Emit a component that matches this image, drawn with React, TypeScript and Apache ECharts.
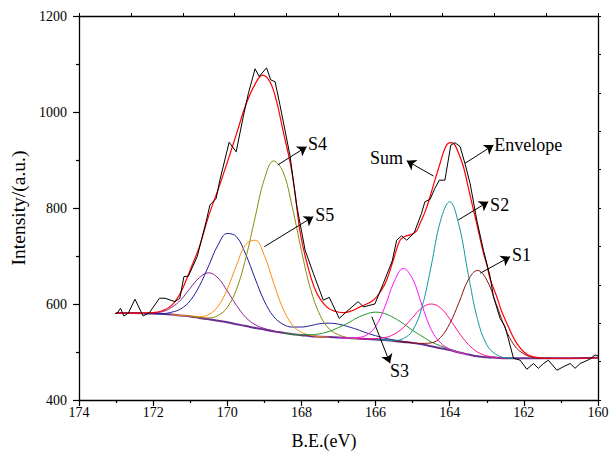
import React, { useEffect, useRef } from "react";
import * as echarts from "echarts";

type P = [number, number];

// Binding energy axis (eV), intensity axis (a.u.)
const xTicks = { min: 160, max: 174, interval: 2 };
const yTicks = { min: 400, max: 1200, interval: 200 };

// Raw spectrum (black)
const rawData: P[] = [
  [173.03, 580], [172.97, 581], [172.88, 591], [172.79, 575], [172.67, 581], [172.49, 610],
  [172.27, 575], [172.1, 582], [171.83, 612], [171.68, 612], [171.41, 605], [171.28, 612],
  [171.17, 657], [171.05, 658], [170.81, 699], [170.56, 775], [170.47, 806], [170.3, 820],
  [170.2, 858], [169.95, 937], [169.76, 917], [169.57, 990], [169.43, 1039], [169.25, 1090],
  [169.14, 1074], [168.94, 1092], [168.83, 1067], [168.71, 1063], [168.58, 1015], [168.31, 910],
  [168.13, 806], [167.9, 712], [167.68, 664], [167.41, 608], [167.25, 614], [166.98, 570],
  [166.74, 587], [166.47, 605], [166.33, 594], [166.02, 600], [165.79, 643], [165.55, 690],
  [165.43, 733], [165.3, 742], [165.16, 733], [164.96, 748], [164.76, 789], [164.67, 813],
  [164.53, 818], [164.4, 841], [164.28, 858], [164.13, 858], [163.97, 931], [163.86, 936],
  [163.72, 928], [163.59, 893], [163.45, 851], [163.27, 775], [163.09, 712], [162.91, 657],
  [162.82, 615], [162.64, 570], [162.51, 553], [162.42, 528], [162.28, 487], [162.1, 483],
  [161.92, 464], [161.74, 476], [161.61, 466], [161.47, 476], [161.34, 483], [161.11, 462],
  [160.94, 469], [160.75, 476], [160.62, 466], [160.48, 476], [160.22, 485], [160.08, 494],
  [160.0, 492],
];

// Fitted envelope (red)
const sumData: P[] = [
  [173.0, 581], [172.5, 581], [172.0, 582], [171.75, 586], [171.5, 597], [171.25, 625],
  [171.0, 671], [170.75, 720], [170.5, 784], [170.25, 838], [170.0, 895], [169.75, 955],
  [169.5, 1015], [169.25, 1058], [169.05, 1077], [168.85, 1063], [168.67, 1022], [168.5, 962],
  [168.3, 893], [168.17, 830], [168.04, 752], [167.86, 688], [167.6, 625], [167.32, 594],
  [167.1, 585], [166.87, 582], [166.64, 586], [166.42, 594], [166.06, 608], [165.85, 628],
  [165.7, 650], [165.5, 697], [165.34, 733], [165.2, 741], [165.07, 744], [164.9, 752],
  [164.8, 768], [164.65, 795], [164.53, 824], [164.4, 858], [164.26, 893], [164.15, 920],
  [164.04, 935], [163.95, 936], [163.86, 931], [163.75, 912], [163.63, 886], [163.5, 843],
  [163.36, 796], [163.22, 750], [163.09, 706], [163.0, 682], [162.91, 652], [162.73, 615],
  [162.6, 585], [162.46, 560], [162.3, 533], [162.19, 518], [162.0, 500], [161.83, 492],
  [161.6, 488], [161.38, 487], [161.0, 487], [160.5, 487], [160.0, 488],
];

// Background
const baseline: P[] = [
  [173.0, 581], [172.5, 581], [172.0, 580], [171.5, 578], [171.25, 576], [171.0, 574],
  [170.75, 571], [170.5, 568], [170.25, 565], [170.0, 562], [169.75, 558], [169.5, 554],
  [169.25, 550], [169.0, 547], [168.75, 543], [168.5, 540], [168.25, 537], [168.0, 535],
  [167.75, 533], [167.5, 532], [167.0, 530], [166.5, 528], [166.0, 526], [165.75, 525],
  [165.5, 523], [165.25, 521], [165.0, 519], [164.75, 516], [164.5, 512], [164.25, 508],
  [164.0, 504], [163.75, 499], [163.5, 495], [163.25, 491], [163.0, 489], [162.75, 488],
  [162.5, 487], [162.0, 487], [161.0, 487], [160.0, 488],
];

// Components (background + peak)
const purplePeak: P[] = [
  [172.5, 581], [172.25, 580], [172.0, 582], [171.75, 584], [171.5, 593], [171.25, 609],
  [171.0, 633], [170.75, 655], [170.5, 665], [170.25, 654], [170.0, 627], [169.75, 597],
  [169.5, 572], [169.25, 557], [169.0, 549], [168.75, 544], [168.5, 540],
];
const navyPeak: P[] = [
  [172.25, 580], [172.0, 580], [171.75, 580], [171.5, 583], [171.25, 590], [171.0, 607],
  [170.75, 638], [170.5, 680], [170.25, 723], [170.0, 747], [169.75, 740], [169.5, 703],
  [169.25, 653], [169.0, 606], [168.75, 574], [168.5, 558], [168.25, 552], [168.0, 552],
  [167.75, 555], [167.5, 559], [167.25, 560], [167.0, 558], [166.75, 553], [166.5, 547],
  [166.25, 540], [166.0, 534], [165.75, 529], [165.5, 525], [165.25, 522], [165.0, 519],
];
const orangePeak: P[] = [
  [171.5, 578], [171.25, 576], [171.0, 575], [170.75, 574], [170.5, 578], [170.25, 595],
  [170.0, 631], [169.75, 681], [169.5, 724], [169.25, 733], [169.0, 701], [168.75, 644],
  [168.5, 591], [168.25, 557], [168.0, 541], [167.75, 535], [167.5, 532], [167.25, 531],
];
const s4Peak: P[] = [
  [171.0, 574], [170.75, 572], [170.5, 571], [170.25, 576], [170.0, 593], [169.75, 631],
  [169.5, 696], [169.25, 780], [169.0, 860], [168.75, 898], [168.5, 876], [168.25, 803],
  [168.0, 711], [167.75, 630], [167.5, 577], [167.25, 548], [167.0, 536], [166.75, 530],
  [166.5, 528],
];
const s3Peak: P[] = [
  [168.5, 540], [168.25, 537], [168.0, 536], [167.75, 536], [167.5, 538], [167.25, 543],
  [167.0, 551], [166.75, 560], [166.5, 571], [166.25, 579], [166.0, 583], [165.75, 580],
  [165.5, 571], [165.25, 559], [165.0, 545], [164.75, 533], [164.5, 521], [164.25, 513],
  [164.0, 506], [163.75, 500], [163.5, 495],
];
const magentaPeak: P[] = [
  [167.0, 530], [166.75, 529], [166.5, 530], [166.25, 535], [166.0, 553], [165.75, 594],
  [165.5, 646], [165.25, 674], [165.0, 652], [164.75, 598], [164.5, 547], [164.25, 519],
  [164.0, 506], [163.75, 499], [163.5, 495],
];
const pinkPeak: P[] = [
  [166.5, 528], [166.25, 527], [166.0, 528], [165.75, 530], [165.5, 537], [165.25, 551],
  [165.0, 572], [164.75, 592], [164.5, 600], [164.25, 592], [164.0, 569], [163.75, 540],
  [163.5, 516], [163.25, 500], [163.0, 492], [162.75, 489], [162.5, 487],
];
const s2Peak: P[] = [
  [166.0, 526], [165.75, 525], [165.5, 524], [165.25, 528], [165.0, 545], [164.75, 593],
  [164.5, 679], [164.25, 773], [164.0, 813], [163.75, 764], [163.5, 662], [163.25, 568],
  [163.0, 515], [162.75, 495], [162.5, 488], [162.25, 487],
];
const s1Peak: P[] = [
  [165.5, 523], [165.25, 521], [165.0, 519], [164.75, 518], [164.5, 519], [164.25, 530],
  [164.0, 559], [163.75, 603], [163.5, 650], [163.25, 670], [163.0, 650], [162.75, 601],
  [162.5, 549], [162.25, 513], [162.0, 496], [161.75, 489], [161.5, 487], [161.25, 487],
];

// Annotations: label, arrow start (on curve), arrow tip, text anchor, alignment
const labelNames = ["S4", "S5", "Sum", "Envelope", "S2", "S1", "S3"];
const arrowFrom: P[] = [
  [168.64, 889.6], [169.0, 719.4], [164.44, 866.7], [163.59, 893], [163.77, 775], [163.18, 664], [166.1, 573.5],
];
const arrowTo: P[] = [
  [167.86, 927.7], [167.68, 781.9], [165.16, 898.5], [162.82, 931], [162.96, 813], [162.37, 698.5], [165.61, 476.5],
];
const labelAt: P[] = [
  [167.82, 934], [167.63, 786], [165.26, 905], [162.8, 931], [162.91, 806], [162.32, 702], [165.61, 460],
];
const labelAlign = ["left", "left", "right", "left", "left", "left", "left"];

const FONT = "Liberation Serif, Times New Roman, serif";

function line(name: string, data: P[], color: string, width = 1, smooth: number | boolean = 0.4) {
  return {
    name,
    type: "line",
    data,
    smooth,
    showSymbol: false,
    symbol: "none",
    silent: true,
    lineStyle: { color, width },
    z: 3,
  };
}

export default function App() {
  const ref = useRef<HTMLDivElement>(null);
  useEffect(() => {
    if (!ref.current) return;
    const chart = echarts.init(ref.current, undefined, { renderer: "svg" });
    const axisLine = { show: true, onZero: false, lineStyle: { color: "#000", width: 1.3 } };
    chart.setOption({
      animation: false,
      backgroundColor: "#fff",
      textStyle: { fontFamily: FONT },
      grid: { left: 79, right: 16, top: 16, bottom: 52, containLabel: false, outerBoundsMode: "none" },
      xAxis: [
        {
          type: "value",
          min: xTicks.min,
          max: xTicks.max,
          interval: xTicks.interval,
          inverse: true,
          position: "bottom",
          axisLine,
          axisTick: { show: true, inside: false, length: 6, lineStyle: { color: "#000", width: 1.2 } },
          minorTick: { show: true, splitNumber: 2, length: 3, lineStyle: { color: "#000", width: 1.2 } },
          splitLine: { show: false },
          axisLabel: {
            fontSize: 14,
            fontFamily: FONT,
            color: "#000",
            margin: 5,
            formatter: (v: number) => String(v),
          },
          name: "B.E.(eV)",
          nameLocation: "middle",
          nameGap: 32,
          nameTextStyle: { fontSize: 18, fontFamily: FONT, color: "#000", padding: [0, 29, 0, 0] },
        },
        {
          type: "value",
          min: 0,
          max: 14,
          interval: 1.4,
          position: "top",
          axisLine,
          axisTick: { show: true, inside: false, length: 3, lineStyle: { color: "#000" } },
          axisLabel: { show: false },
          splitLine: { show: false },
        },
      ],
      yAxis: [
        {
          type: "value",
          min: yTicks.min,
          max: yTicks.max,
          interval: yTicks.interval,
          position: "left",
          axisLine,
          axisTick: { show: true, inside: false, length: 6, lineStyle: { color: "#000", width: 1.2 } },
          minorTick: { show: true, splitNumber: 2, length: 3, lineStyle: { color: "#000", width: 1.2 } },
          splitLine: { show: false },
          axisLabel: {
            fontSize: 14,
            fontFamily: FONT,
            color: "#000",
            margin: 12,
            formatter: (v: number) => String(v),
          },
          name: "Intensity/(a.u.)",
          nameLocation: "middle",
          nameGap: 49,
          nameTextStyle: { fontSize: 19.5, fontFamily: FONT, color: "#000" },
        },
        {
          type: "value",
          min: 400,
          max: 1200,
          interval: 80,
          position: "right",
          axisLine,
          axisTick: { show: true, inside: false, length: 3, lineStyle: { color: "#000" } },
          axisLabel: { show: false },
          splitLine: { show: false },
        },
      ],
      series: [
        line("baseline", baseline, "#6a2f8e", 2),
        line("purple", purplePeak, "#8e1e96"),
        line("navy", navyPeak, "#1e1e9a"),
        line("orange", orangePeak, "#ff8a10"),
        line("S4", s4Peak, "#8a8a10"),
        line("S3", s3Peak, "#1f951f"),
        line("magenta", magentaPeak, "#ff10ff"),
        line("pink", pinkPeak, "#ff1090"),
        line("S2", s2Peak, "#129a9a"),
        line("S1", s1Peak, "#8b1010"),
        line("Sum", sumData, "#ff0000", 1.2),
        {
          ...line("raw", rawData, "#000000", 1, false),
          z: 4,
          markLine: {
            silent: true,
            symbol: ["none", "arrow"],
            symbolSize: 9,
            label: { show: false },
            lineStyle: { color: "#000", width: 1, type: "solid" },
            data: arrowFrom.map((a, i) => [{ coord: a }, { coord: arrowTo[i] }]),
          },
        },
      ],
    });
    const texts = labelNames.map((t, i) => {
      const p = chart.convertToPixel({ xAxisIndex: 0, yAxisIndex: 0 }, labelAt[i]) as number[];
      return {
        type: "text",
        x: p[0],
        y: p[1],
        z: 10,
        style: {
          text: t,
          fontSize: 18,
          fontFamily: FONT,
          fill: "#000",
          align: labelAlign[i],
          verticalAlign: "middle",
        },
      };
    });
    chart.setOption({ graphic: texts });
    return () => chart.dispose();
  }, []);
  return (
    <div
      ref={ref}
      style={{ position: "fixed", left: 0, top: 0, width: 614, height: 452, background: "#fff" }}
    />
  );
}
